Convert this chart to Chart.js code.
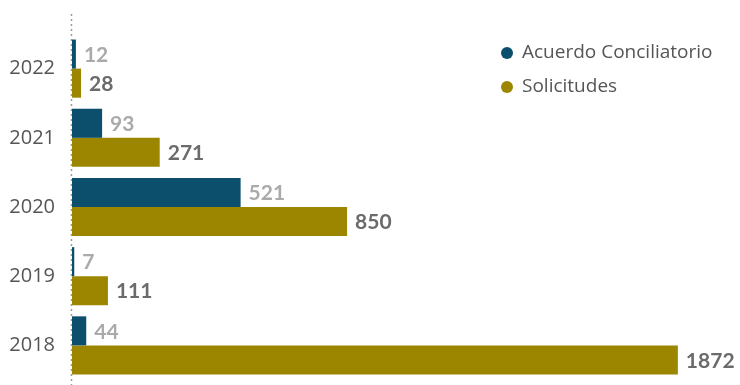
<!DOCTYPE html>
<html>
<head>
<meta charset="utf-8">
<script src="https://cdn.jsdelivr.net/npm/chart.js@4"></script>
<style>
  html, body { margin: 0; padding: 0; background: #fff; overflow: hidden; }
  canvas { display: block; }
</style>
</head>
<body>
<canvas id="chart" width="740" height="385"></canvas>
<script>
// data
const years = ['2022', '2021', '2020', '2019', '2018'];
const acuerdos = [12, 93, 521, 7, 44];
const solicitudes = [28, 271, 850, 111, 1872];
const seriesNames = ['Acuerdo Conciliatorio', 'Solicitudes'];

const colors = ['#0b4f6c', '#9c8600'];
const labelColors = ['#aaaaaa', '#6b6b6b'];
const textFont = '"Open Sans", Lato, sans-serif';
const numberFont = 'Lato, "Open Sans", sans-serif';

// value labels at the end of each bar
const valueLabels = {
    id: 'valueLabels',
    afterDatasetsDraw(chart) {
        const ctx = chart.ctx;
        ctx.save();
        ctx.font = 'bold 21px ' + numberFont;
        ctx.textBaseline = 'middle';
        ctx.textAlign = 'left';
        chart.data.datasets.forEach((ds, i) => {
            chart.getDatasetMeta(i).data.forEach((bar, j) => {
                ctx.fillStyle = labelColors[i];
                ctx.fillText(ds.data[j], bar.x + 8, bar.y + 1);
            });
        });
        ctx.restore();
    }
};

// dotted axis line at zero
const dottedAxis = {
    id: 'dottedAxis',
    beforeDatasetsDraw(chart) {
        const ctx = chart.ctx;
        const x = Math.round(chart.scales.x.getPixelForValue(0)) - 0.5;
        ctx.save();
        ctx.strokeStyle = '#9a9a9a';
        ctx.lineWidth = 1.5;
        ctx.setLineDash([2, 3]);
        ctx.beginPath();
        ctx.moveTo(x, 14);
        ctx.lineTo(x, chart.height);
        ctx.stroke();
        ctx.restore();
    }
};

// legend drawn in the upper right corner
const cornerLegend = {
    id: 'cornerLegend',
    afterDraw(chart) {
        const ctx = chart.ctx;
        ctx.save();
        ctx.font = '19px ' + textFont;
        ctx.textBaseline = 'middle';
        seriesNames.forEach((name, i) => {
            const y = 53 + i * 34;
            ctx.fillStyle = colors[i];
            ctx.beginPath();
            ctx.arc(507, y, 6, 0, Math.PI * 2);
            ctx.fill();
            ctx.fillStyle = '#555555';
            ctx.fillText(name, 522, y);
        });
        ctx.restore();
    }
};

new Chart(document.getElementById('chart'), {
    type: 'bar',
    data: {
        labels: years,
        datasets: [
            {
                label: seriesNames[0],
                data: acuerdos,
                backgroundColor: colors[0],
                categoryPercentage: 0.84,
                barPercentage: 1.0
            },
            {
                label: seriesNames[1],
                data: solicitudes,
                backgroundColor: colors[1],
                categoryPercentage: 0.84,
                barPercentage: 1.0
            }
        ]
    },
    options: {
        indexAxis: 'y',
        responsive: false,
        animation: false,
        layout: { padding: { top: 34, bottom: 5, left: 0, right: 0 } },
        scales: {
            x: {
                min: 0,
                max: 2064,
                grid: { display: false, drawTicks: false },
                border: { display: false },
                ticks: { display: false },
                afterFit(scale) {
                    scale.height = 0;
                    scale.paddingLeft = 0;
                    scale.paddingRight = 0;
                }
            },
            y: {
                grid: { display: false, drawTicks: false },
                border: { display: false },
                ticks: {
                    color: '#555555',
                    padding: 17,
                    font: { size: 20, family: textFont }
                },
                afterFit(scale) {
                    scale.width = 72;
                    scale.paddingTop = 0;
                    scale.paddingBottom = 0;
                }
            }
        },
        plugins: {
            legend: { display: false },
            tooltip: { enabled: false }
        }
    },
    plugins: [dottedAxis, valueLabels, cornerLegend]
});
</script>
</body>
</html>
